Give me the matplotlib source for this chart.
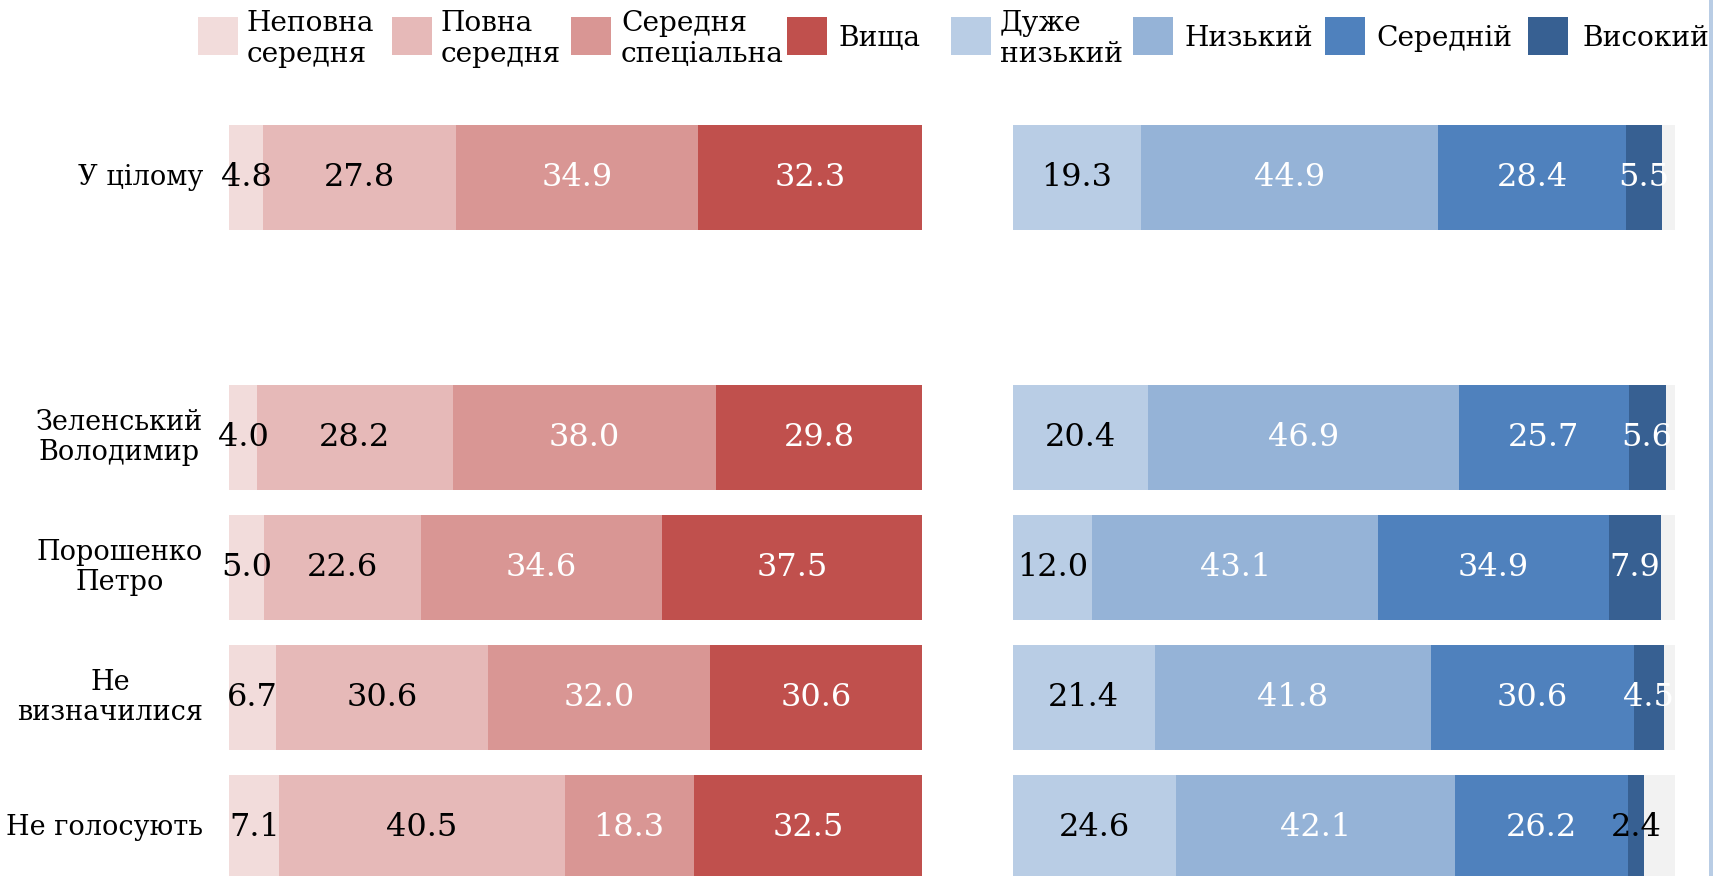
import matplotlib
matplotlib.use("Agg")
import matplotlib.pyplot as plt
from matplotlib.patches import Rectangle
import numpy as np

plt.rcParams['font.family'] = ['DejaVu Serif']

# ---------------- data ----------------
rows = ["У цілому", "", "Зеленський\nВолодимир", "Порошенко\nПетро",
        "Не\nвизначилися", "Не голосують"]

edu_labels = ["Неповна\nсередня", "Повна\nсередня", "Середня\nспеціальна", "Вища"]
edu_incomplete_secondary = [4.8, None, 4.0, 5.0, 6.7, 7.1]
edu_full_secondary = [27.8, None, 28.2, 22.6, 30.6, 40.5]
edu_vocational = [34.9, None, 38.0, 34.6, 32.0, 18.3]
edu_higher = [32.3, None, 29.8, 37.5, 30.6, 32.5]

inc_labels = ["Дуже\nнизький", "Низький", "Середній", "Високий"]
inc_very_low = [19.3, None, 20.4, 12.0, 21.4, 24.6]
inc_low = [44.9, None, 46.9, 43.1, 41.8, 42.1]
inc_middle = [28.4, None, 25.7, 34.9, 30.6, 26.2]
inc_high = [5.5, None, 5.6, 7.9, 4.5, 2.4]

# ---------------- style ----------------
edu_colors = ["#F2DCDB", "#E6B9B8", "#D99694", "#C0504D"]
edu_text = ["black", "black", "white", "white"]
inc_colors = ["#B9CDE5", "#95B3D7", "#4F81BD", "#376092"]
inc_text = ["black", "white", "white", "white"]
track_color = "#F2F2F2"

W, H = 1713, 876
fig = plt.figure(figsize=(W / 100, H / 100), dpi=100)

row0_px, row_step_px = 177.5, 130
ylim = ((H - row0_px) / row_step_px, -row0_px / row_step_px)

axL = fig.add_axes([229.4 / W, 0, 693 / W, 1])
axR = fig.add_axes([1013 / W, 0, 662 / W, 1])
for ax in (axL, axR):
    ax.set_xlim(0, 100)
    ax.set_ylim(*ylim)
    ax.axis("off")

bar_h = 0.81
val_fs = 23

edu_series = [edu_incomplete_secondary, edu_full_secondary, edu_vocational, edu_higher]
inc_series = [inc_very_low, inc_low, inc_middle, inc_high]

for i, name in enumerate(rows):
    if edu_series[0][i] is None:
        continue
    # left panel: 100% stacked
    vals = [s[i] for s in edu_series]
    total = sum(vals)
    left = 0.0
    for k, v in enumerate(vals):
        w = v / total * 100
        axL.barh(i, w, left=left, height=bar_h, color=edu_colors[k], linewidth=0)
        axL.text(left + w / 2, i, f"{v:.1f}", ha="center", va="center",
                 fontsize=val_fs, color=edu_text[k])
        left += w
    # category label
    axL.text(-3.8, i, name, ha="right", va="center", multialignment="center",
             fontsize=19.5, color="black", linespacing=1.15)

    # right panel: track + stacked
    axR.barh(i, 100, height=bar_h, color=track_color, linewidth=0)
    vals = [s[i] for s in inc_series]
    left = 0.0
    for k, v in enumerate(vals):
        axR.barh(i, v, left=left, height=bar_h, color=inc_colors[k], linewidth=0)
        c = inc_text[k] if v >= 3 else "black"
        axR.text(left + v / 2, i, f"{v:.1f}", ha="center", va="center",
                 fontsize=val_fs, color=c)
        left += v

# ---------------- legend (manual) ----------------
leg_patch_x = [197.5, 392, 570.5, 787, 951, 1133, 1325, 1528]
leg_text_x = [247, 441, 621, 839, 1000, 1185, 1376, 1582]
leg_colors = edu_colors + inc_colors
leg_labels = edu_labels + inc_labels
for px, tx, c, lab in zip(leg_patch_x, leg_text_x, leg_colors, leg_labels):
    fig.patches.append(Rectangle((px / W, 1 - 55 / H), 40 / W, 38 / H,
                                 transform=fig.transFigure, color=c, linewidth=0))
    fig.text(tx / W, 1 - 39 / H, lab, ha="left", va="center", fontsize=20.2,
             linespacing=1.2, color="black")

# thin accent line at the right edge
fig.patches.append(Rectangle((1709 / W, 0), 4 / W, 1, transform=fig.transFigure,
                             color="#B9CDE5", linewidth=0))

fig.savefig("out.png", dpi=100)
